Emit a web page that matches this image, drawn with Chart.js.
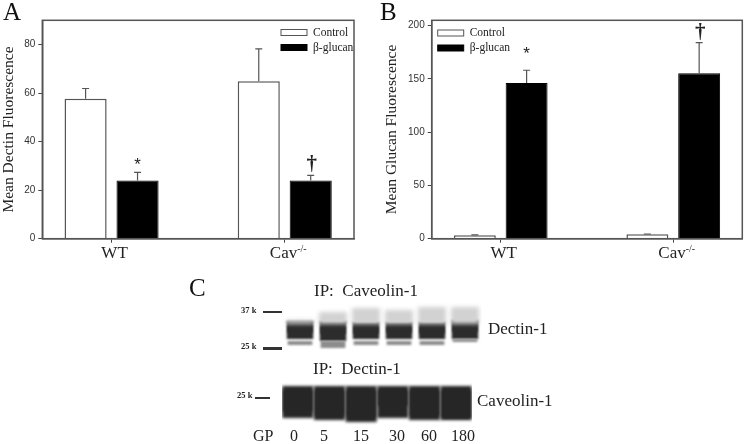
<!DOCTYPE html>
<html>
<head>
<meta charset="utf-8">
<script src="https://cdn.jsdelivr.net/npm/chart.js@4"></script>
<style>
  html, body { margin: 0; padding: 0; background: #fff; }
  #page { position: relative; width: 745px; height: 444px; overflow: hidden; font-family: "Liberation Serif", serif; color: #222; }
  #page canvas { position: absolute; }
  .txt { position: absolute; white-space: pre; line-height: 1; font-size: 17px; }
  .panel { font-size: 25px; color: #111; }
  .kd { font-size: 8.5px; font-weight: bold; }
</style>
</head>
<body>
<div id="page">
  <div style="position:absolute;left:0;top:0;width:370px;height:270px"><canvas id="chartA"></canvas></div>
  <div style="position:absolute;left:370px;top:0;width:375px;height:270px"><canvas id="chartB"></canvas></div>
  <div style="position:absolute;left:180px;top:270px;width:400px;height:174px"><canvas id="blotTop"></canvas></div>
  <div style="position:absolute;left:180px;top:270px;width:400px;height:174px"><canvas id="blotBottom"></canvas></div>

  <span class="txt panel" style="left:3px;top:-1px">A</span>
  <span class="txt panel" style="left:380px;top:-1px">B</span>
  <span class="txt panel" style="left:189px;top:275px">C</span>

  <span class="txt" style="left:314px;top:282px">IP:  Caveolin-1</span>
  <span class="txt" style="left:313px;top:360px">IP:  Dectin-1</span>
  <span class="txt" style="left:488px;top:320px">Dectin-1</span>
  <span class="txt" style="left:477px;top:392px">Caveolin-1</span>
  <span class="txt kd" style="left:241px;top:306px">37 k</span>
  <span class="txt kd" style="left:241px;top:342px">25 k</span>
  <span class="txt kd" style="left:237px;top:391px">25 k</span>
  <span class="txt" style="left:253px;top:428px;font-size:16px">GP</span>
  <span class="txt" style="left:290px;top:428px;font-size:16px">0</span>
  <span class="txt" style="left:320px;top:428px;font-size:16px">5</span>
  <span class="txt" style="left:353px;top:428px;font-size:16px">15</span>
  <span class="txt" style="left:389px;top:428px;font-size:16px">30</span>
  <span class="txt" style="left:421px;top:428px;font-size:16px">60</span>
  <span class="txt" style="left:451px;top:428px;font-size:16px">180</span>
</div>
<script>
// groups and series
var categories = ['WT', 'Cav'];
var seriesNames = ['Control', '\u03b2-glucan'];

var aControl = [57.7, 64.9];
var aGlucan = [24.0, 24.0];
var aControlTop = [61.9, 78.2];
var aGlucanTop = [27.3, 26.1];
var aMarks = ['*', '\u2020'];
var aTicks = [0, 20, 40, 60, 80];

var bControl = [3.2, 4.1];
var bGlucan = [146.2, 155.3];
var bControlTop = [3.5, 4.4];
var bGlucanTop = [158.1, 184.0];
var bMarks = ['*', '\u2020'];
var bTicks = [0, 50, 100, 150, 200];

// blot lanes, band ranges as distance down the panel
var lanes = ['0', '5', '15', '30', '60', '180'];
var haloBand = [[50, 54], [42, 54], [38, 54], [40, 54], [37, 54], [37, 54]];
var mainBand = [[51, 69], [51, 71], [52, 69], [52, 69], [52, 69], [50, 69]];
var coreBand = [[55, 63], [56, 64], [56, 64], [56, 63], [56, 64], [54, 62]];
var lowerBand = [[71, 75], [71, 78], [71, 75], [71, 75], [71, 75], [69, 72]];
var smearBand = [[116, 148], [116, 150], [116, 152], [116, 148], [116, 150], [116, 150]];
var darkBand = [[120, 142], [120, 146], [120, 148], [120, 136], [120, 146], [120, 148]];

var ink = '#555';
var serif = '"Liberation Serif", serif';
var sans = '"Liberation Sans", sans-serif';

// frame, error bars, star marks, legend and superscript
var panelPlugin = {
  id: 'panelPlugin',
  afterDatasetsDraw: function (chart) {
    var o = chart.options.plugins.panelPlugin;
    var ctx = chart.ctx, x = chart.scales.x, y = chart.scales.y, area = chart.chartArea;
    ctx.save();
    ctx.strokeStyle = ink;
    ctx.lineWidth = 1.5;
    ctx.strokeRect(area.left, area.top, area.width, area.height);

    // error bars, upper side only
    chart.data.datasets.forEach(function (ds, d) {
      var meta = chart.getDatasetMeta(d);
      meta.data.forEach(function (bar, i) {
        var top = y.getPixelForValue(o.tops[d][i]);
        var base = y.getPixelForValue(ds.data[i].y);
        ctx.strokeStyle = '#555';
        ctx.lineWidth = 1.2;
        ctx.beginPath();
        ctx.moveTo(bar.x, base);
        ctx.lineTo(bar.x, top);
        ctx.moveTo(bar.x - 3.5, top);
        ctx.lineTo(bar.x + 3.5, top);
        ctx.stroke();
      });
    });

    // significance marks over the glucan bars
    var glucan = chart.getDatasetMeta(1);
    ctx.fillStyle = '#222';
    ctx.textAlign = 'center';
    ctx.textBaseline = 'alphabetic';
    o.marks.forEach(function (m, i) {
      var top = y.getPixelForValue(o.tops[1][i]);
      if (m === '*') {
        ctx.font = '17px ' + sans;
        ctx.fillText(m, glucan.data[i].x, top - o.starGap);
      } else {
        ctx.font = 'bold 21px ' + serif;
        ctx.fillText(m, glucan.data[i].x + 1, top - o.daggerGap);
      }
    });

    // legend
    ctx.textAlign = 'left';
    ctx.textBaseline = 'middle';
    ctx.font = '11.5px ' + serif;
    chart.data.datasets.forEach(function (ds, d) {
      var ly = o.legendY[d];
      ctx.fillStyle = ds.backgroundColor;
      ctx.fillRect(o.legendX, ly - 3, 26, 6);
      ctx.strokeStyle = ds.borderColor;
      ctx.lineWidth = 1;
      ctx.strokeRect(o.legendX, ly - 3, 26, 6);
      ctx.fillStyle = '#222';
      ctx.fillText(ds.label, o.legendX + 32, ly);
    });

    // -/- after the Cav tick label
    ctx.font = '17px ' + serif;
    var full = ctx.measureText('Cav  ').width;
    var left = x.getPixelForValue(1) + 3 - full / 2;
    var supX = left + ctx.measureText('Cav').width;
    ctx.font = '10px ' + serif;
    ctx.fillText('-/-', supX, area.bottom + 11);
    ctx.restore();
  }
};

function toPoints(values) {
  return values.map(function (v, i) { return { x: i, y: v }; });
}

function createPanelChart(id, control, glucan, tops, marks, ticks, yMax, yTitle, opts) {
  var ctx = document.getElementById(id).getContext('2d');
  return new Chart(ctx, {
    type: 'bar',
    data: {
      datasets: [
        { label: seriesNames[0], data: toPoints(control), backgroundColor: '#fff', borderColor: ink, borderWidth: 1.5 },
        { label: seriesNames[1], data: toPoints(glucan), backgroundColor: '#000', borderColor: '#000', borderWidth: 1 }
      ]
    },
    options: {
      responsive: true,
      maintainAspectRatio: false,
      animation: false,
      categoryPercentage: 0.6,
      barPercentage: 0.81,
      layout: { padding: { left: 0, right: opts.right, top: 20.3, bottom: 0 } },
      plugins: {
        legend: { display: false },
        tooltip: { enabled: false },
        panelPlugin: { tops: tops, marks: marks, starGap: opts.starGap, daggerGap: opts.daggerGap, legendX: opts.legendX, legendY: opts.legendY }
      },
      scales: {
        x: {
          type: 'linear',
          offset: false,
          min: -0.4,
          max: 1.4,
          afterBuildTicks: function (scale) { scale.ticks = categories.map(function (c, i) { return { value: i }; }); },
          afterFit: function (scale) { scale.height = 31.3; },
          grid: { offset: false, drawOnChartArea: false, tickLength: 4, color: '#444' },
          border: { color: ink, width: 1.5 },
          ticks: {
            autoSkip: false,
            maxRotation: 0,
            labelOffset: 3,
            padding: 1,
            color: '#222',
            font: { family: serif, size: 17 },
            callback: function (v) { return v === 1 ? 'Cav  ' : categories[v]; }
          }
        },
        y: {
          min: 0,
          max: yMax,
          afterBuildTicks: function (scale) { scale.ticks = ticks.map(function (t) { return { value: t }; }); },
          afterFit: function (scale) { scale.width = opts.axisWidth; },
          grid: { drawOnChartArea: false, tickLength: 4, color: '#444' },
          border: { color: ink, width: 1.5 },
          ticks: { padding: 3, color: '#333', font: { family: sans, size: 10 } },
          title: { display: true, text: yTitle, color: '#222', padding: { top: opts.titlePad, bottom: 0 }, font: { family: serif, size: 15.5 } }
        }
      }
    },
    plugins: [panelPlugin]
  });
}

createPanelChart('chartA', aControl, aGlucan, [aControlTop, aGlucanTop], aMarks, aTicks, 90, 'Mean Dectin Fluorescence',
  { axisWidth: 42.3, right: 16, titlePad: 0, starGap: 2, daggerGap: 5, legendX: 281, legendY: [32.5, 47.5] });
createPanelChart('chartB', bControl, bGlucan, [bControlTop, bGlucanTop], bMarks, bTicks, 205, 'Mean Glucan Fluorescence',
  { axisWidth: 61.7, right: 2.7, titlePad: 13, starGap: 11, daggerGap: 5, legendX: 67.7, legendY: [33, 48] });

// soft edges on the blot bands
var blurPlugin = {
  id: 'blurPlugin',
  beforeDatasetDraw: function (chart, args) {
    chart.ctx.save();
    chart.ctx.filter = 'blur(' + chart.data.datasets[args.index].blur + 'px)';
  },
  afterDatasetDraw: function (chart) {
    chart.ctx.restore();
  }
};

function createBlot(id, datasets, left, right) {
  var ctx = document.getElementById(id).getContext('2d');
  return new Chart(ctx, {
    type: 'bar',
    data: { labels: lanes, datasets: datasets },
    options: {
      responsive: true,
      maintainAspectRatio: false,
      animation: false,
      layout: { padding: { left: left, right: right, top: 0, bottom: 0 } },
      plugins: { legend: { display: false }, tooltip: { enabled: false } },
      scales: {
        x: { display: false, stacked: true },
        y: { display: false, stacked: false, min: 0, max: 174, reverse: true }
      }
    },
    plugins: [blurPlugin]
  });
}

function blotSet(data, color, blur, width) {
  return { data: data, backgroundColor: color, blur: blur, barPercentage: width, categoryPercentage: 1, grouped: false };
}

createBlot('blotTop', [
  blotSet(haloBand, '#d2d2d2', 2, 0.85),
  blotSet(lowerBand, '#8c8c8c', 1, 0.75),
  blotSet(mainBand, '#2c2c2c', 1.2, 0.8),
  blotSet(coreBand, '#080808', 1.2, 0.74)
], 103.5, 98.5);

createBlot('blotBottom', [
  blotSet(smearBand, '#262626', 1.6, 0.98),
  blotSet(darkBand, '#000', 1.6, 0.9)
], 102, 108);

// marker ladder strokes next to the blots
var ladder = document.createElement('div');
var ladderMarks = [[263, 311, 19, 2], [263, 347, 19, 3], [255, 397, 15, 2]];
ladderMarks.forEach(function (m) {
  var s = document.createElement('div');
  s.style.cssText = 'position:absolute;background:#333;left:' + m[0] + 'px;top:' + m[1] + 'px;width:' + m[2] + 'px;height:' + m[3] + 'px';
  ladder.appendChild(s);
});
document.getElementById('page').appendChild(ladder);
</script>
</body>
</html>
